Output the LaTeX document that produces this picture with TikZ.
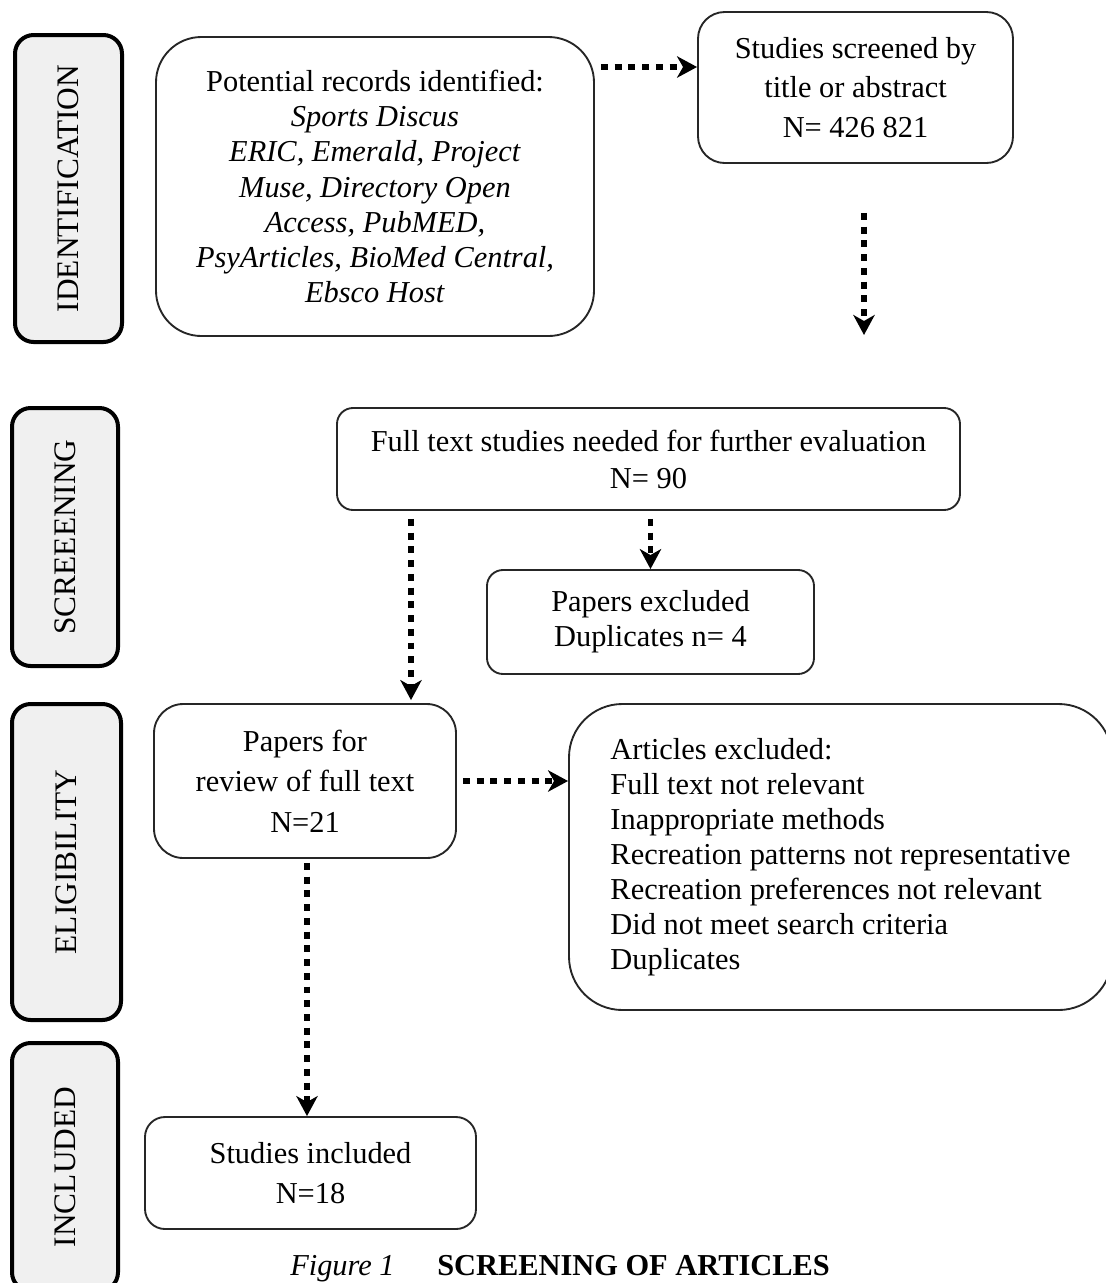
\documentclass[tikz,border=0pt]{standalone}
\usepackage{fontspec}
\setmainfont{Liberation Serif}
\usetikzlibrary{arrows.meta,calc}
\begin{document}
\begin{tikzpicture}[x=0.75pt,y=-0.75pt,
  wh/.style n args={2}{minimum width=#1*0.75pt, minimum height=#2*0.75pt},
  phase/.style={draw=black, line width=3pt, fill=black!6, rounded corners=14pt, inner sep=0pt,
    font=\fontsize{23.5pt}{26pt}\selectfont},
  box/.style={draw=black!85, line width=1.4pt, fill=white, align=center, inner sep=0pt,
    font=\fontsize{22.8pt}{26.3pt}\selectfont},
  wide/.style={font=\fontsize{22.8pt}{29.8pt}\selectfont},
  arr/.style={line width=4pt, dash pattern=on 5.2pt off 5.1pt,
    -{Stealth[length=15pt,width=16pt,inset=4.5pt]}}
]
\useasboundingbox (0,0) rectangle (1106,1283);

% phase labels
\node[phase, wh={107}{307}] (idl) at (68.5,188.5) {\rotatebox{90}{IDENTIFICATION}};
\node[phase, wh={106}{258}] (scl) at (65,537) {\rotatebox{90}{SCREEENING}};
\node[phase, wh={109}{316}] (ell) at (66.5,862) {\rotatebox{90}{ELIGIBILITY}};
\node[phase, wh={106}{248}] (inl) at (65,1167) {\rotatebox{90}{INCLUDED}};

% boxes
\node[box, wh={438}{299}, rounded corners=34pt] (pot) at (375,186.5)
  {Potential records identified:\\ \textit{Sports Discus}\\ \textit{ERIC, Emerald, Project}\\
   \textit{Muse, Directory Open}\\ \textit{Access, PubMED,}\\ \textit{PsyArticles, BioMed Central,}\\
   \textit{Ebsco Host}};
\node[box, wide, wh={315}{151}, rounded corners=20pt] (scr) at (855.5,87.5)
  {Studies screened by\\ title or abstract\\ N= 426 821};
\node[box, font=\fontsize{22.8pt}{27.8pt}\selectfont, wh={623}{102}, rounded corners=12pt] (full) at (648.5,459)
  {Full text studies needed for further evaluation\\ N= 90};
\node[box, wh={327}{104}, rounded corners=12pt] (pex) at (650.5,622)
  {Papers excluded\\ Duplicates n= 4};
\node[box, font=\fontsize{22.8pt}{30.5pt}\selectfont, wh={302}{154}, rounded corners=22pt] (pfr) at (305,781)
  {Papers for\\ review of full text\\ N=21};
\node[box, align=left, wh={543}{306}, rounded corners=40pt] (art) at (840.5,857)
  {Articles excluded:\\ Full text not relevant\\ Inappropriate methods\\
   Recreation patterns not representative\\ Recreation preferences not relevant\\
   Did not meet search criteria\\ Duplicates};
\node[box, wide, wh={331}{112}, rounded corners=15pt] (inc) at (310.5,1173)
  {Studies included\\ N=18};

% caption
\node[anchor=base west, inner sep=0pt, font=\fontsize{22.8pt}{26pt}\selectfont\itshape] (fig) at (290,1275) {Figure 1};
\node[anchor=base west, inner sep=0pt, font=\fontsize{22.8pt}{26pt}\selectfont\bfseries] (cap) at (437,1275) {SCREENING OF ARTICLES};

% helper coordinates
\coordinate (y67) at (0,67);
\coordinate (d1) at (864,335);
\coordinate (c2) at (411,0);
\coordinate (c3) at (307,0);

% connectors
\draw[arr] ($(pot.east |- y67)+(6,0)$) -- (scr.west |- y67);
\draw[arr] ($(scr.south -| d1)+(0,49)$) -- (d1);
\draw[arr] ($(full.south -| pex.north)+(0,8)$) -- (pex.north);
\draw[arr] ($(full.south -| c2)+(0,8)$) -- ($(pfr.north -| c2)+(0,-3)$);
\draw[arr] ($(pfr.east)+(6,0)$) -- (art.west |- pfr.east);
\draw[arr] ($(pfr.south -| c3)+(0,4)$) -- (inc.north -| c3);
\end{tikzpicture}
\end{document}
